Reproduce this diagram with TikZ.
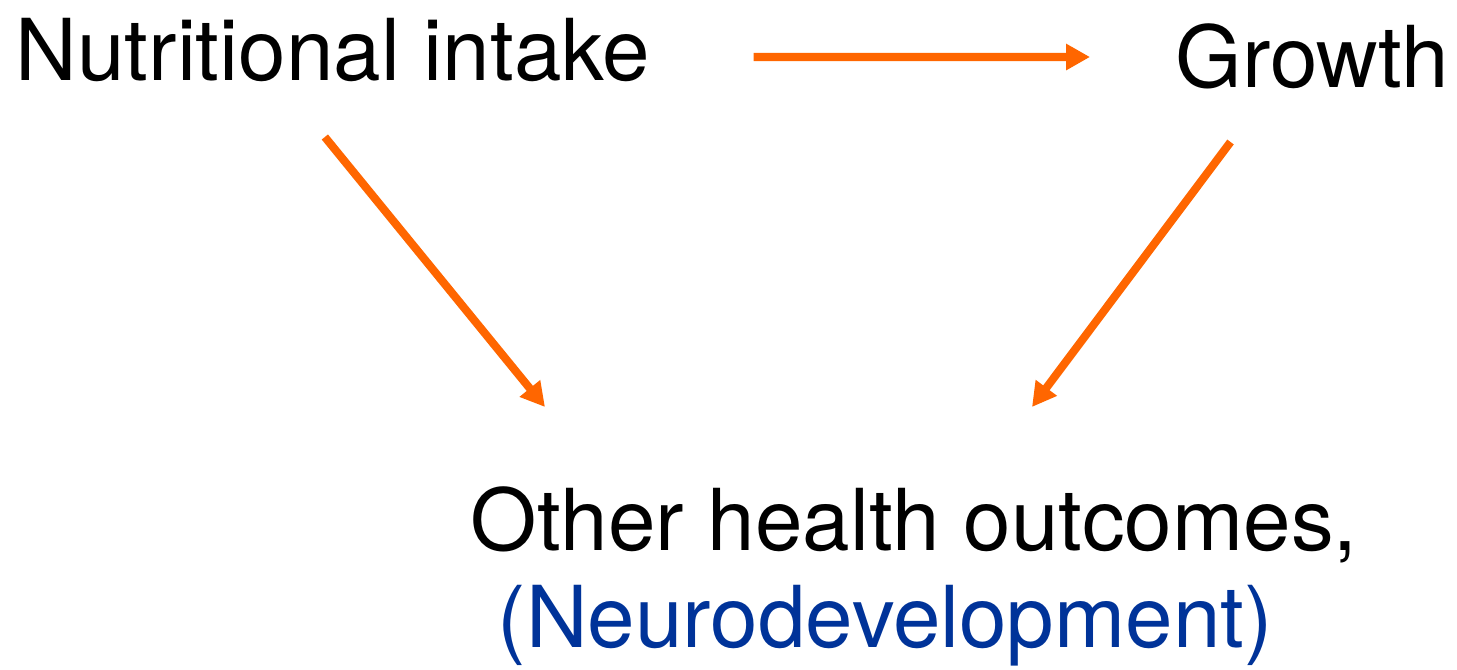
\documentclass[tikz,border=0pt]{standalone}
\usepackage{fontspec}
\setmainfont{TeX Gyre Heros}
\usetikzlibrary{arrows.meta}

\definecolor{flowor}{HTML}{FF6600}
\definecolor{neurob}{HTML}{003399}

\tikzset{
    lbl/.style={inner sep=0pt, font=\fontsize{24.3}{28}\selectfont},
    flow/.style={draw=flowor, line width=2.3pt, -{Triangle[length=0.24cm,width=0.25cm]}},
}

\begin{document}
\begin{tikzpicture}[scale=1]

\useasboundingbox (0,0) rectangle (14.57,-6.69);

% the three labels
\node[lbl, anchor=base west] (intake) at (0.15,-0.80) {Nutritional intake};
\node[lbl, anchor=base east] (growth) at (14.50,-0.87) {Growth};
\node[lbl, anchor=base west] (outcomes) at (4.70,-5.50) {Other health outcomes,};
\node[lbl, anchor=base west, text=neurob] (neuro) at (4.97,-6.47) {(Neurodevelopment)};

% arrows between them
\draw[flow] ([shift={(1.03,0.23)}]intake.base east) -- ([shift={(-0.85,0.30)}]growth.base west);
\draw[flow] ([shift={(-0.08,-0.57)}]intake.base) -- ([shift={(0.75,1.43)}]outcomes.base west);
\draw[flow] ([shift={(-0.82,-0.55)}]growth.base) -- ([shift={(5.62,1.43)}]outcomes.base west);

\end{tikzpicture}
\end{document}
